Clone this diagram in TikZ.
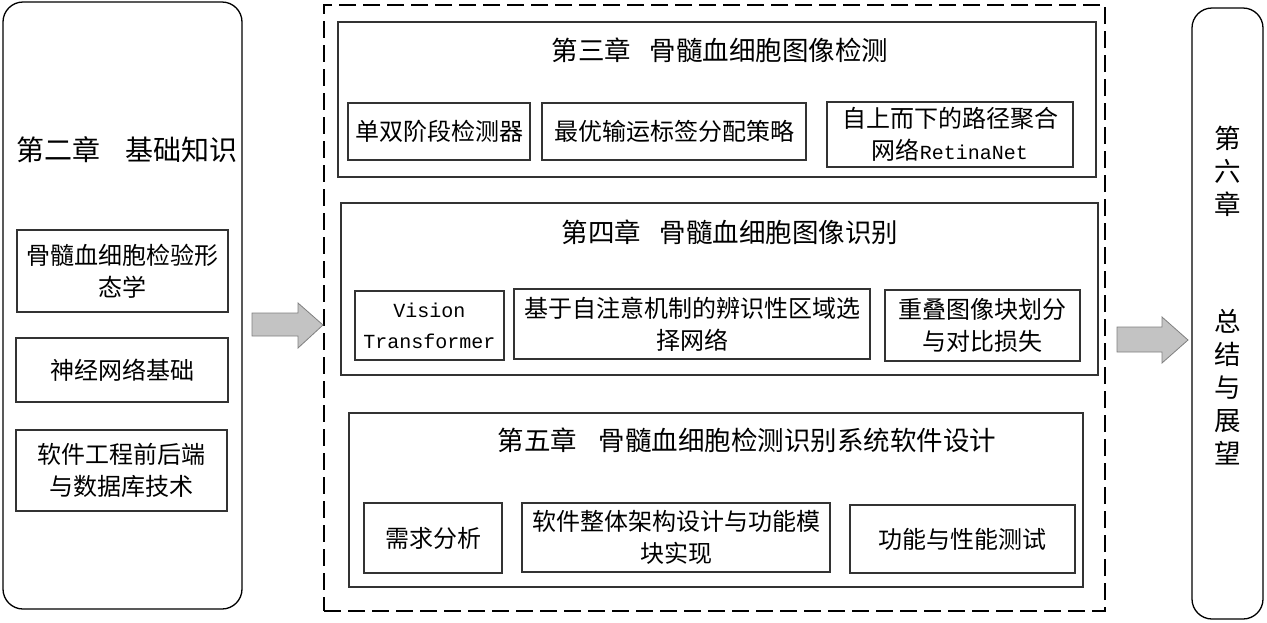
\documentclass[tikz,border=0pt]{standalone}
\usepackage{fontspec}
\usepackage{tikz}
\setmainfont{Noto Sans CJK SC}
\newfontfamily\latinmono{Liberation Mono}
\definecolor{arrowfill}{HTML}{C3C3C3}
\definecolor{arrowline}{HTML}{7F7F7F}
\tikzstyle{side}=[rectangle, rounded corners=20pt, draw=black, line width=1.3pt, inner sep=0pt]
\tikzstyle{frame}=[rectangle, draw=black, line width=1.4pt, dash pattern=on 17pt off 7pt, inner sep=0pt]
\tikzstyle{chap}=[rectangle, draw=black!80, line width=1.1pt, inner sep=0pt]
\tikzstyle{sub}=[rectangle, draw=black!80, line width=1.1pt, inner sep=0pt, align=center, font=\fontsize{24}{32}\selectfont]
\tikzstyle{ttl}=[inner sep=0pt, font=\fontsize{26.5}{33}\selectfont]
\tikzstyle{bigarrow}=[draw=arrowline, fill=arrowfill, line width=0.8pt, line join=miter]

\begin{document}
\begin{tikzpicture}[x=1pt, y=-1pt]
				\useasboundingbox (0,0) rectangle (1267,622);
				
				%Chapter two
				\draw (122.5,305.5) node[side, minimum width=239pt, minimum height=607pt] (ch2) {};
				\draw (127,150) node[ttl, font=\fontsize{28}{33}\selectfont] (ch2-t) {第二章\hspace{0.9em}基础知识};
				\draw (122.5,271) node[sub, minimum width=211pt, minimum height=82pt] (ch2-a) {骨髓血细胞检验形\\态学};
				\draw (122,370) node[sub, minimum width=212pt, minimum height=64pt] (ch2-b) {神经网络基础};
				\draw (121.5,470.5) node[sub, minimum width=211pt, minimum height=81pt] (ch2-c) {软件工程前后端\\与数据库技术};
				
				%The dashed frame
				\draw (714.5,308) node[frame, minimum width=781pt, minimum height=606pt] (mid) {};
				
				%Chapter three
				\draw (717,99.5) node[chap, minimum width=758pt, minimum height=155pt] (ch3) {};
				\draw (720,50) node[ttl] (ch3-t) {第三章\hspace{0.7em}骨髓血细胞图像检测};
				\draw (439,131.5) node[sub, minimum width=182pt, minimum height=57pt] (ch3-a) {单双阶段检测器};
				\draw (674,131.5) node[sub, minimum width=264pt, minimum height=57pt] (ch3-b) {最优输运标签分配策略};
				\draw (950,134.5) node[sub, minimum width=246pt, minimum height=65pt] (ch3-c) {自上而下的路径聚合\\网络{\latinmono\fontsize{20}{32}\selectfont RetinaNet}};
				
				%Chapter four
				\draw (719.5,289) node[chap, minimum width=757pt, minimum height=172pt] (ch4) {};
				\draw (730,232) node[ttl] (ch4-t) {第四章\hspace{0.7em}骨髓血细胞图像识别};
				\draw (429.5,325.5) node[sub, minimum width=149pt, minimum height=69pt, font=\latinmono\fontsize{20}{31}\selectfont] (ch4-a) {Vision\\Transformer};
				\draw (692,324) node[sub, minimum width=356pt, minimum height=70pt] (ch4-b) {基于自注意机制的辨识性区域选\\择网络};
				\draw (982.5,325.5) node[sub, minimum width=195pt, minimum height=71pt] (ch4-c) {重叠图像块划分\\与对比损失};
				
				%Chapter five
				\draw (716,500) node[chap, minimum width=734pt, minimum height=174pt] (ch5) {};
				\draw (747,440) node[ttl] (ch5-t) {第五章\hspace{0.8em}骨髓血细胞检测识别系统软件设计};
				\draw (433,538) node[sub, minimum width=138pt, minimum height=70pt] (ch5-a) {需求分析};
				\draw (676,537.5) node[sub, minimum width=308pt, minimum height=69pt] (ch5-b) {软件整体架构设计与功能模\\块实现};
				\draw (962.5,539) node[sub, minimum width=225pt, minimum height=68pt] (ch5-c) {功能与性能测试};
				
				%Chapter six
				\draw (1227.5,313.5) node[side, minimum width=71pt, minimum height=611pt] (ch6) {};
				\draw (1228,296) node[ttl, align=center] (ch6-t) {第\\六\\章\\[84pt]总\\结\\与\\展\\望};
				
				%The big arrows
				\draw[bigarrow] (252,313) -- (298,313) -- (298,303) -- (323,325) -- (298,348) -- (298,336) -- (252,336) -- cycle;
				\draw[bigarrow] (1117,327) -- (1162,327) -- (1162,317) -- (1188,340) -- (1162,363) -- (1162,352) -- (1117,352) -- cycle;
			\end{tikzpicture}
\end{document}
